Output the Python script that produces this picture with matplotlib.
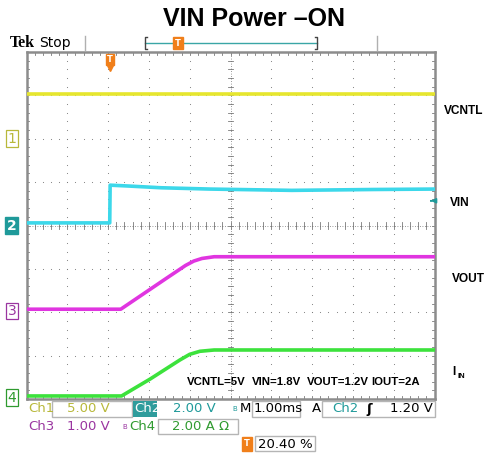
import matplotlib
matplotlib.use("Agg")
import matplotlib.pyplot as plt
import matplotlib.transforms as mtransforms
from matplotlib.patches import Rectangle
import numpy as np

# ---- data, in screen divisions (x: 0..10, y: 0..8 from bottom) ----
vcntl_t = [0, 10]
vcntl_v = [7.04, 7.04]

vin_t = [0, 2.04, 2.05, 2.5, 3.3, 4.5, 6.5, 8.5, 10]
vin_v = [4.06, 4.06, 4.93, 4.91, 4.87, 4.84, 4.81, 4.83, 4.84]

vout_t = [0, 2.31, 3.44, 3.9, 4.1, 4.3, 4.6, 10]
vout_v = [2.07, 2.07, 2.79, 3.08, 3.18, 3.24, 3.28, 3.28]

iin_t = [0, 2.33, 3.03, 3.76, 4.0, 4.25, 4.6, 10]
iin_v = [0.07, 0.07, 0.46, 0.90, 1.03, 1.10, 1.13, 1.13]

ground_levels = [6.0, 4.0, 2.03, 0.03]
channel_names = ["1", "2", "3", "4"]
trace_labels = ["VCNTL", "VIN", "VOUT", "I"]
label_levels = [6.64, 4.52, 2.77, 0.62]
label_x = [444, 450, 452, 452]

conditions = ["VCNTL=5V", "VIN=1.8V", "VOUT=1.2V", "IOUT=2A"]
conditions_x = [187, 252, 307, 371]

trace_colors = ["#e6e62e", "#3cd8ea", "#e035e0", "#3ce23c"]
text_colors = ["#b8b83a", "#1f9a9a", "#9a35a0", "#2f9a2f"]

trigger_pos = 2.04   # 20.40 %
trigger_level = 4.57

W, H = 484, 455
fig = plt.figure(figsize=(W / 100, H / 100), dpi=100)


def fx(x):
    return x / W


def fy(y):
    return 1 - y / H


ax = fig.add_axes([fx(26.5), fy(399), 408 / W, 347 / H])
ax.set_xlim(0, 10)
ax.set_ylim(0, 8)
ax.set_xticks([])
ax.set_yticks([])
for s in ax.spines.values():
    s.set_color("#8c8c8c")
    s.set_linewidth(1.8)

# graticule: dotted major lines, every 0.2 div
grid_col = "#7a7a7a"
fine = np.arange(0, 10.01, 0.2)
fine_y = np.arange(0, 8.01, 0.2)
for k in range(1, 10):
    ax.scatter(np.full(fine_y.size, k), fine_y, s=0.6, color=grid_col, lw=0)
for k in range(1, 8):
    ax.scatter(fine, np.full(fine.size, k), s=0.6, color=grid_col, lw=0)

# centre cross with minor ticks
ax.plot([0, 10], [4, 4], color=grid_col, lw=0.6, ls=(0, (1, 2)))
ax.plot([5, 5], [0, 8], color=grid_col, lw=0.6, ls=(0, (1, 2)))
for x in fine:
    ax.plot([x, x], [3.93, 4.07], color=grid_col, lw=0.6)
    ax.plot([x, x], [0, 0.08], color=grid_col, lw=0.6)
    ax.plot([x, x], [7.92, 8], color=grid_col, lw=0.6)
for y in fine_y:
    ax.plot([4.93, 5.07], [y, y], color=grid_col, lw=0.6)
    ax.plot([0, 0.07], [y, y], color=grid_col, lw=0.6)
    ax.plot([9.93, 10], [y, y], color=grid_col, lw=0.6)

# traces
for t, v, c in zip([vcntl_t, vin_t, vout_t, iin_t],
                   [vcntl_v, vin_v, vout_v, iin_v], trace_colors):
    ax.plot(t, v, color=c, lw=2.6, solid_joinstyle="round", zorder=5)

# channel ground markers on the left
blend = mtransforms.blended_transform_factory(ax.transAxes, ax.transData)
for i, (lv, name) in enumerate(zip(ground_levels, channel_names)):
    if i == 1:
        ax.text(-0.025, lv, name, transform=blend, ha="right", va="center",
                fontsize=10, color="white", fontweight="bold",
                bbox=dict(boxstyle="square,pad=0.1", fc=text_colors[i], ec=text_colors[i]),
                clip_on=False)
    else:
        ax.text(-0.025, lv, name, transform=blend, ha="right", va="center",
                fontsize=10, color=text_colors[i],
                bbox=dict(boxstyle="square,pad=0.1", fc="white", ec=text_colors[i], lw=0.9),
                clip_on=False)

# trace names on the right
fig_y = mtransforms.blended_transform_factory(fig.transFigure, ax.transData)
for lab, lv, lx in zip(trace_labels, label_levels, label_x):
    ax.text(fx(lx), lv, lab, transform=fig_y, ha="left", va="center",
            fontsize=8.6, fontweight="bold", family="Liberation Sans", clip_on=False)
fig.text(fx(458), fy(376), "IN", ha="left", va="center", fontsize=5.5,
         fontweight="bold", family="Liberation Sans")

# trigger position marker (top) and trigger level arrow (right)
ax.text(trigger_pos, 7.83, "T", ha="center", va="center", fontsize=6, color="white",
        fontweight="bold", bbox=dict(boxstyle="square,pad=0.15", fc="#f07f1a", ec="#f07f1a"),
        zorder=6)
ax.plot([trigger_pos], [7.62], marker="v", ms=5, color="#f07f1a", zorder=6)
ax.annotate("", xy=(9.84, trigger_level), xytext=(9.98, trigger_level),
            arrowprops=dict(arrowstyle="-|>", color="#1f9a9a", lw=1.2, mutation_scale=7),
            annotation_clip=False)

for txt, cx in zip(conditions, conditions_x):
    fig.text(fx(cx), fy(382), txt, ha="left", va="center", fontsize=8.2,
             fontweight="bold", family="Liberation Sans", zorder=7)

# title and header
fig.text(fx(254), fy(19), "VIN Power \u2013ON", ha="center", va="center",
         fontsize=18, fontweight="bold", family="Liberation Sans")
fig.text(fx(10), fy(43), "Tek", ha="left", va="center", fontsize=11.5,
         fontweight="bold", family="Liberation Serif")
fig.text(fx(39), fy(43), "Stop", ha="left", va="center", fontsize=10, family="DejaVu Sans")
for xs in (85, 377):
    fig.add_artist(plt.Line2D([fx(xs), fx(xs)], [fy(36), fy(50)], color="#b0b0b0", lw=1))
fig.add_artist(plt.Line2D([fx(145), fx(317)], [fy(43), fy(43)], color="#3aa6a6", lw=1))
for xs, d in ((145, 1), (317, -1)):
    fig.add_artist(plt.Line2D([fx(xs + 2 * d), fx(xs), fx(xs), fx(xs + 2 * d)],
                              [fy(37), fy(37), fy(49), fy(49)], color="#444444", lw=1))
fig.text(fx(178), fy(43), "T", ha="center", va="center", fontsize=6, color="white",
         fontweight="bold", bbox=dict(boxstyle="square,pad=0.2", fc="#f07f1a", ec="#f07f1a"))

# status readout boxes at the bottom
box_ec = "#b5b5b5"


def box(x0, x1, y0, y1):
    fig.add_artist(Rectangle((fx(x0), fy(y1)), fx(x1) - fx(x0), fy(y0) - fy(y1),
                             fill=False, ec=box_ec, lw=1))


box(52, 132, 401, 417)
box(158, 238, 419, 434)
box(252, 300, 401, 417)
box(322, 435, 401, 417)
box(255, 315, 436, 451)
fig.add_artist(Rectangle((fx(133), fy(417)), fx(157) - fx(133), fy(401) - fy(417),
                         fc="#2f9c9c", ec="none"))

fs = 9.5
r1, r2, r3 = fy(409), fy(427), fy(444)
fig.text(fx(28), r1, "Ch1", color=text_colors[0], fontsize=fs, va="center")
fig.text(fx(67), r1, "5.00 V", color=text_colors[0], fontsize=fs, va="center")
fig.text(fx(134), r1, "Ch2", color="white", fontsize=fs, va="center")
fig.text(fx(173), r1, "2.00 V", color=text_colors[1], fontsize=fs, va="center")
fig.text(fx(232), r1, "B", color=text_colors[1], fontsize=5, va="center")
fig.text(fx(240), r1, "M", color="black", fontsize=fs, va="center")
fig.text(fx(254), r1, "1.00ms", color="black", fontsize=fs, va="center")
fig.text(fx(312), r1, "A", color="black", fontsize=fs, va="center")
fig.text(fx(332), r1, "Ch2", color=text_colors[1], fontsize=fs, va="center")
fig.text(fx(366), r1, "\u0283", color="black", fontsize=fs, va="center", fontweight="bold")
fig.text(fx(433), r1, "1.20 V", color="black", fontsize=fs, va="center", ha="right")
fig.text(fx(28), r2, "Ch3", color=text_colors[2], fontsize=fs, va="center")
fig.text(fx(67), r2, "1.00 V", color=text_colors[2], fontsize=fs, va="center")
fig.text(fx(122), r2, "B", color=text_colors[2], fontsize=5, va="center")
fig.text(fx(129), r2, "Ch4", color=text_colors[3], fontsize=fs, va="center")
fig.text(fx(172), r2, "2.00 A \u03a9", color=text_colors[3], fontsize=fs, va="center")
fig.text(fx(247), r3, "T", ha="center", va="center", fontsize=6, color="white",
         fontweight="bold", bbox=dict(boxstyle="square,pad=0.25", fc="#f07f1a", ec="#f07f1a"))
fig.text(fx(258), r3, "20.40 %", color="black", fontsize=fs, va="center")

fig.savefig("out.png", dpi=100)
